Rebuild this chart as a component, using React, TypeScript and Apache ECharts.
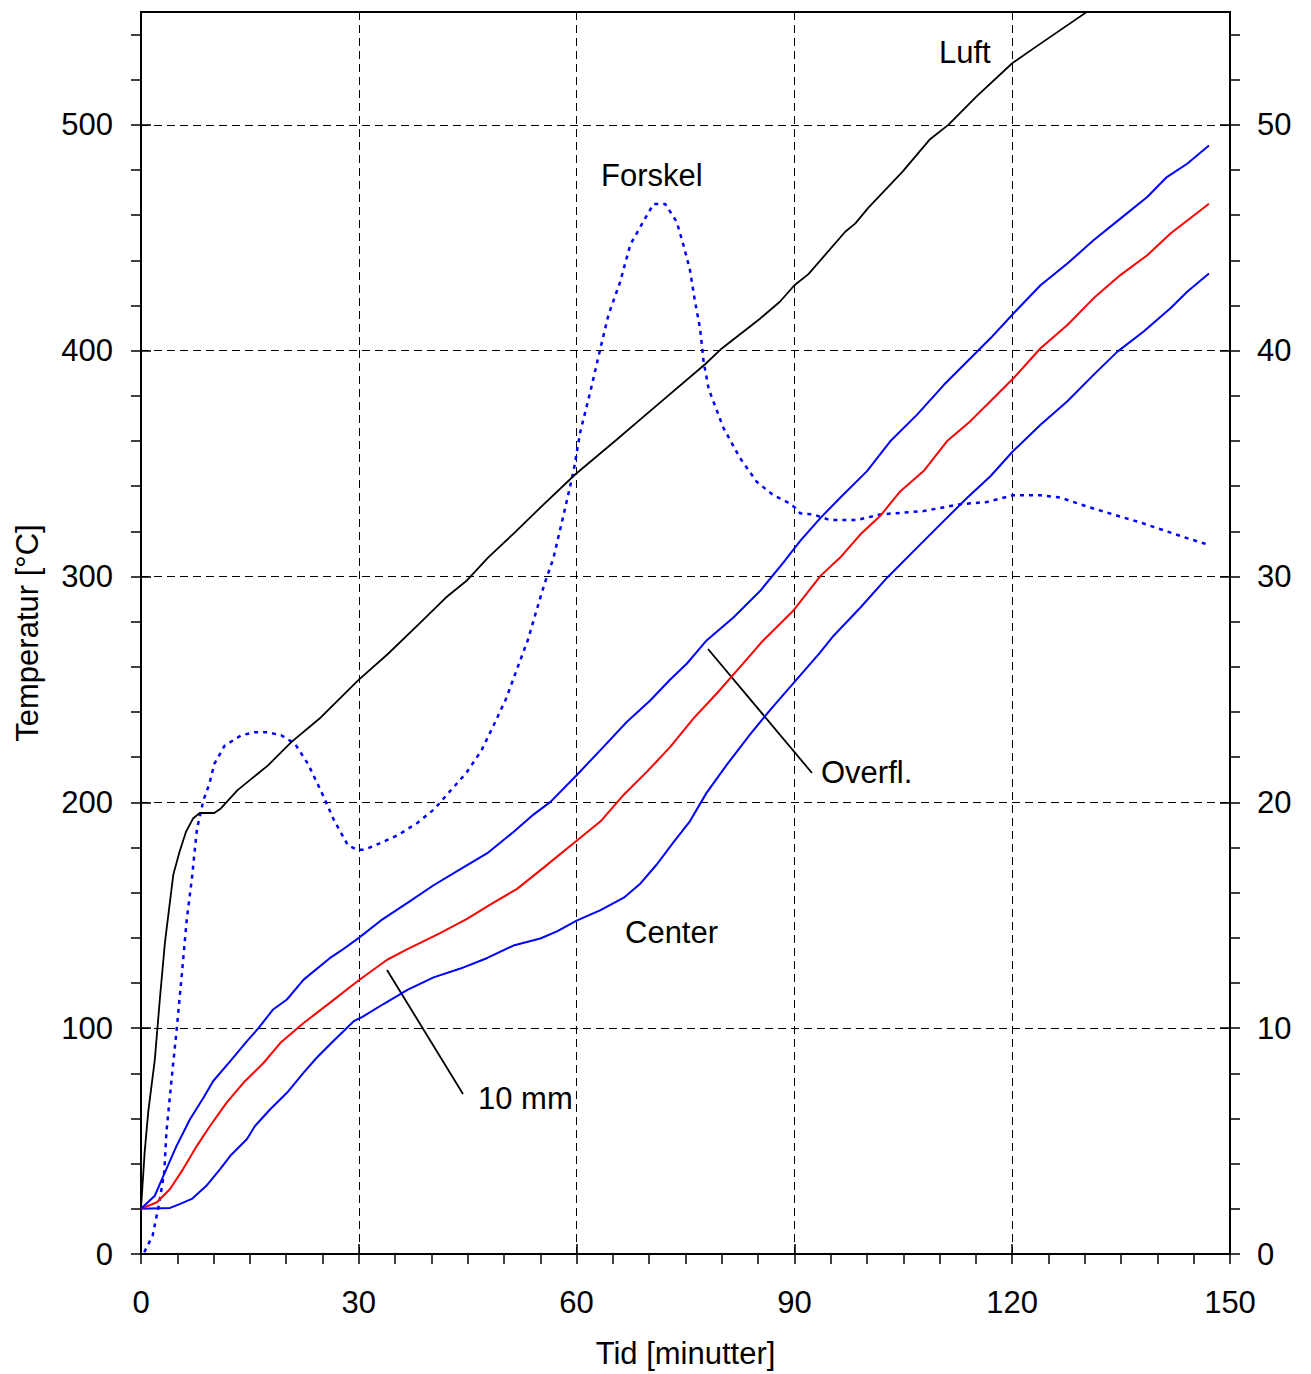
import React, { useEffect, useRef } from "react";
import * as echarts from "echarts";

// ---- Data (time in minutes, temperature in °C; Forskel on the right axis) ----
const luftTime = [0, 0.5, 1, 1.9, 2.6, 3.3, 4.45, 5.3, 6.2, 7.2, 8.1, 10.1, 11, 13.3, 17.5, 20.7, 24.8, 29.9, 34, 38.3, 42, 44.8, 47.8, 51.5, 55, 59.8, 65.5, 70.6, 77.7, 80, 85.3, 88, 90, 91.9, 97, 98.4, 100.2, 104.9, 108.6, 111.2, 115.1, 120, 123, 130.5, 131.5];
const luftTemp = [20, 45, 63, 86, 113, 138, 168, 178, 187, 193, 195.3, 195.3, 197.3, 205.4, 216.4, 226.7, 237.7, 254, 265.7, 279, 290.7, 298, 308.4, 319.6, 330.5, 345.2, 360.6, 374.6, 394, 401, 414.3, 421.7, 429, 433.8, 452.7, 456.4, 463.4, 479.3, 493.4, 500, 512.6, 527.3, 534, 550.5, 553];

const forskelTime = [0.45, 0.92, 1.6, 2.5, 3.2, 3.5, 4.2, 4.9, 5.6, 6.3, 7, 7.7, 8.6, 9.4, 10.1, 11.5, 13.8, 15.6, 17.5, 19.3, 21.2, 23, 24.8, 26.6, 28.5, 29.8, 30.8, 33, 35.4, 38.1, 40.4, 42.3, 44.8, 46.9, 48.7, 50.3, 51.9, 53.3, 54.2, 55.6, 56.8, 58.4, 59.6, 60.5, 61.9, 63.2, 64.4, 66, 67.4, 68.8, 70.6, 72.2, 73.8, 74.7, 75.6, 76.3, 77, 77.5, 78.2, 80.2, 82.5, 84.8, 87.1, 89, 90.1, 90.8, 92.6, 94.9, 98.6, 101.8, 107.8, 112.8, 116.5, 120.1, 123.9, 126.6, 130.3, 133.9, 137.6, 141.3, 144.1, 147.1];
const forskelValue = [0.08, 0.38, 0.82, 2.23, 3.61, 5.4, 7.7, 9.9, 12.3, 14.8, 16.6, 18.8, 20.1, 20.8, 21.7, 22.5, 22.97, 23.1, 23.1, 22.97, 22.6, 21.7, 20.5, 19.2, 18.1, 17.9, 17.9, 18.2, 18.55, 19.1, 19.7, 20.4, 21.3, 22.3, 23.5, 24.6, 26, 27.2, 28.2, 29.7, 30.8, 33, 34.7, 36.4, 38.2, 40, 41.6, 43.05, 44.7, 45.5, 46.5, 46.5, 45.7, 44.7, 43.6, 42.2, 41, 39.5, 38.3, 36.6, 35.25, 34.2, 33.6, 33.3, 33.05, 32.8, 32.75, 32.5, 32.5, 32.75, 32.9, 33.2, 33.3, 33.6, 33.6, 33.5, 33.1, 32.75, 32.4, 32, 31.7, 31.4];

const overflTime = [0, 1.9, 3.1, 4.9, 6.75, 8.6, 9.95, 12.3, 14.6, 16.2, 18.2, 20.1, 22.4, 26, 27.5, 30, 33, 36.7, 40.3, 44, 47.7, 51.3, 54.1, 56.4, 60, 63.7, 66.9, 70.1, 72.9, 75.2, 77.9, 81.6, 85.3, 88.5, 90.8, 93.6, 96.3, 100, 103.2, 106.9, 110.6, 113.8, 117, 120.2, 123.9, 127.6, 131.2, 134.9, 138.6, 141.3, 144.1, 147.1];
const overflTemp = [20, 25.8, 34.7, 47.9, 59.7, 69.2, 76.6, 85.4, 94.3, 100.1, 108.3, 112.7, 121.5, 131, 134.2, 140, 147.6, 155.5, 163.3, 170.4, 177.5, 186.9, 194.7, 200.2, 212, 224.6, 235.6, 245, 254.4, 261.5, 271.7, 281.9, 293.7, 306.3, 315.8, 326, 334.9, 346.7, 359.9, 371.7, 384.9, 395.2, 405.5, 416.6, 429, 438.6, 448.9, 458.5, 468.1, 476.9, 482.8, 490.9];

const mm10Time = [0, 2.2, 4, 5.8, 7.7, 9.5, 11.8, 14.1, 16.9, 19.2, 22.4, 26, 30, 33.9, 36.7, 41.2, 44.9, 48.1, 51.8, 55.5, 60, 63.3, 66.5, 69.7, 72.9, 76.1, 79.3, 82.5, 85.7, 89.9, 93.6, 96.3, 99.1, 101.8, 104.6, 107.8, 111, 114.2, 117, 120.2, 123.9, 127.6, 131.2, 134.9, 138.6, 141.8, 147.1];
const mm10Temp = [20, 22.9, 28.8, 37.6, 47.9, 56.7, 67, 75.8, 84.7, 93.5, 102.3, 111.2, 121.2, 130.3, 135, 142.1, 148.4, 154.7, 161.7, 171.2, 183, 191.6, 203.4, 213.6, 224.6, 237.2, 248.2, 259.9, 271.7, 285.1, 300.3, 308.4, 318.7, 326.8, 337.8, 346.7, 359.9, 368.7, 377.6, 387.9, 401.1, 411.4, 423.2, 433.5, 442.3, 451.9, 465.1];

const centerTime = [0, 4, 5.4, 7, 9, 10.9, 12.3, 14.6, 15.7, 17.8, 20.1, 22.4, 24.2, 26.5, 29.3, 30.5, 33.4, 36.7, 40.3, 44, 47.7, 51.3, 55, 57.3, 60, 63.3, 66.5, 68.8, 71.1, 73.3, 75.6, 77.9, 80.7, 83.9, 86.7, 89.9, 93.5, 95.4, 99.1, 102.8, 106.9, 110.1, 113.8, 117, 120.1, 123.9, 127.6, 131.2, 134.5, 138.1, 141.8, 144.1, 147.1];
const centerTemp = [20, 20.4, 22.2, 24.4, 30.2, 37.6, 43.5, 50.9, 56.7, 64.1, 71.4, 80.3, 86.9, 94.3, 103.1, 105, 110.7, 117, 122.5, 126.4, 131.1, 136.6, 139.7, 142.9, 147.6, 152.3, 157.8, 164.1, 172.7, 182.2, 191.6, 204.2, 216.7, 230.1, 241.1, 252.9, 266.2, 273.8, 286.3, 299.6, 312.8, 323.1, 334.9, 344.4, 355.5, 367.2, 377.6, 389.3, 399.6, 408.5, 418.8, 426.1, 434.2];

const xMajorTicks = [0, 30, 60, 90, 120, 150];
const leftMajorTicks = [0, 100, 200, 300, 400, 500];
const rightMajorTicks = [0, 10, 20, 30, 40, 50];
const xMinorTicks = Array.from({ length: 31 }, (_, i) => i * 5);
const leftMinorTicks = Array.from({ length: 28 }, (_, i) => i * 20);
const rightMinorTicks = Array.from({ length: 28 }, (_, i) => i * 2);

const FONT = "'Liberation Sans', Arial, sans-serif";
const FS = 31;

const zip = (a: number[], b: number[]) => a.map((v, i) => [v, b[i]]);

export default function App() {
  const ref = useRef<HTMLDivElement>(null);
  useEffect(() => {
    if (!ref.current) return;
    const chart = echarts.init(ref.current, null, { renderer: "svg" });
    const black = "#000";
    const labelStyle = { color: black, fontSize: FS, fontFamily: FONT };
    const dashed = { color: black, width: 1, type: [8, 5] as any };
    const axisLine = { show: true, onZero: false, lineStyle: { color: black, width: 2 } };

    chart.setOption({
      animation: false,
      backgroundColor: "#fff",
      grid: { left: 141, right: 81, top: 12, bottom: 115, show: true, borderColor: black, borderWidth: 2, backgroundColor: "transparent" },
      xAxis: [
        {
          type: "value", min: 0, max: 150, interval: 30, position: "bottom",
          axisLine,
          axisTick: { inside: true, length: 10, customValues: xMajorTicks, lineStyle: { color: black, width: 1.5 } },
          axisLabel: { margin: 33, customValues: xMajorTicks, ...labelStyle },
          splitLine: { show: true, lineStyle: dashed },
          name: "Tid [minutter]", nameLocation: "middle", nameGap: 84,
          nameTextStyle: labelStyle,
        },
        {
          type: "value", min: 0, max: 150, interval: 5, position: "bottom",
          axisLine,
          axisTick: { inside: false, length: 10, customValues: xMinorTicks, lineStyle: { color: black, width: 1.5 } },
          axisLabel: { show: false },
          splitLine: { show: false },
        },
      ],
      yAxis: [
        {
          type: "value", min: 0, max: 550, interval: 100, position: "left",
          axisLine,
          axisTick: { inside: true, length: 10, customValues: leftMajorTicks, lineStyle: { color: black, width: 1.5 } },
          axisLabel: { margin: 28, customValues: leftMajorTicks, ...labelStyle },
          splitLine: { show: true, lineStyle: dashed },
          name: "Temperatur [°C]", nameLocation: "middle", nameGap: 98,
          nameTextStyle: labelStyle,
        },
        {
          type: "value", min: 0, max: 55, interval: 10, position: "right",
          axisLine,
          axisTick: { inside: true, length: 10, customValues: rightMajorTicks, lineStyle: { color: black, width: 1.5 } },
          axisLabel: { margin: 27, customValues: rightMajorTicks, ...labelStyle },
          splitLine: { show: false },
        },
        {
          type: "value", min: 0, max: 550, interval: 20, position: "left",
          axisLine,
          axisTick: { inside: false, length: 10, customValues: leftMinorTicks, lineStyle: { color: black, width: 1.5 } },
          axisLabel: { show: false },
          splitLine: { show: false },
        },
        {
          type: "value", min: 0, max: 55, interval: 2, position: "right",
          axisLine,
          axisTick: { inside: false, length: 10, customValues: rightMinorTicks, lineStyle: { color: black, width: 1.5 } },
          axisLabel: { show: false },
          splitLine: { show: false },
        },
      ],
      series: [
        { name: "Forskel", type: "line", yAxisIndex: 1, data: zip(forskelTime, forskelValue), showSymbol: false, symbol: "none", lineStyle: { color: "#0000ff", width: 2.5, type: [4, 5] } },
        { name: "Luft", type: "line", data: zip(luftTime, luftTemp), showSymbol: false, symbol: "none", lineStyle: { color: black, width: 1.8 } },
        { name: "Center", type: "line", data: zip(centerTime, centerTemp), showSymbol: false, symbol: "none", lineStyle: { color: "#0000ff", width: 2 } },
        { name: "10 mm", type: "line", data: zip(mm10Time, mm10Temp), showSymbol: false, symbol: "none", lineStyle: { color: "#ff0000", width: 2 } },
        { name: "Overfl.", type: "line", data: zip(overflTime, overflTemp), showSymbol: false, symbol: "none", lineStyle: { color: "#0000ff", width: 2 } },
      ],
      graphic: [
        { type: "text", x: 939, y: 52, style: { text: "Luft", fill: black, font: `${FS}px ${FONT}`, textVerticalAlign: "middle" } },
        { type: "text", x: 601, y: 175, style: { text: "Forskel", fill: black, font: `${FS}px ${FONT}`, textVerticalAlign: "middle" } },
        { type: "text", x: 821, y: 772, style: { text: "Overfl.", fill: black, font: `${FS}px ${FONT}`, textVerticalAlign: "middle" } },
        { type: "text", x: 625, y: 932, style: { text: "Center", fill: black, font: `${FS}px ${FONT}`, textVerticalAlign: "middle" } },
        { type: "text", x: 478, y: 1098, style: { text: "10 mm", fill: black, font: `${FS}px ${FONT}`, textVerticalAlign: "middle" } },
        { type: "line", shape: { x1: 708, y1: 649, x2: 812, y2: 773 }, style: { stroke: black, lineWidth: 1.8 } },
        { type: "line", shape: { x1: 387, y1: 970, x2: 463, y2: 1094 }, style: { stroke: black, lineWidth: 1.8 } },
      ],
    });
    return () => chart.dispose();
  }, []);
  return <div ref={ref} style={{ position: "absolute", left: 0, top: 0, width: 1311, height: 1374, background: "#fff" }} />;
}
